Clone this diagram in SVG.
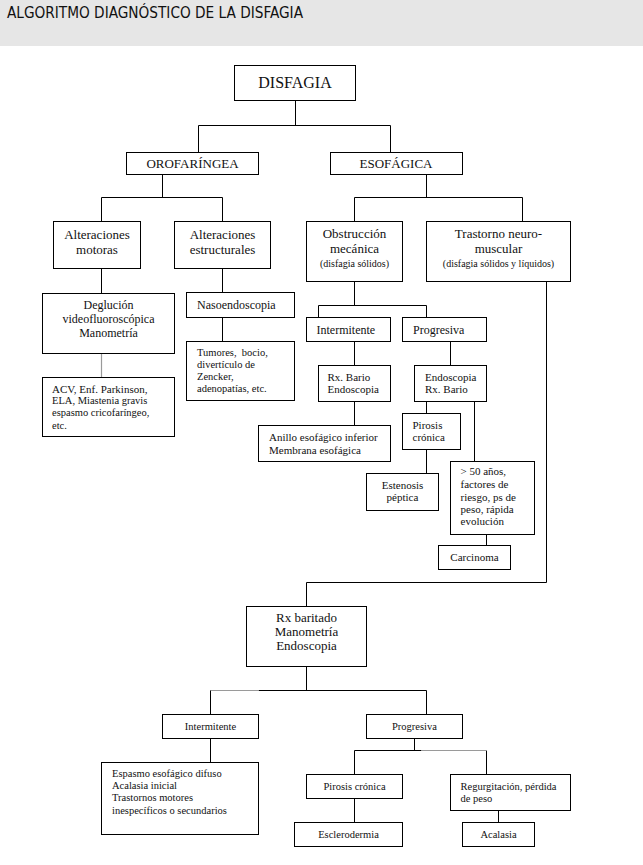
<svg xmlns="http://www.w3.org/2000/svg" width="643" height="865" viewBox="0 0 643 865">
<style>
.bx{fill:#fff;stroke:#000;stroke-width:1}
.ln{fill:none;stroke:#000;stroke-width:1}
.lg{fill:none;stroke:#9a9a9a;stroke-width:1.2}
text{font-family:"Liberation Serif","Times New Roman",serif;fill:#111}
.c{text-anchor:middle}
.f16{font-size:16px}.f13{font-size:13px}.f12{font-size:12px}.f11{font-size:11px}.f105{font-size:10.5px}.f10{font-size:10px}
.title{font-family:"Liberation Sans Narrow","DejaVu Sans Condensed","Liberation Sans",sans-serif;font-size:15px;fill:#111}
</style>
<rect x="0" y="0" width="643" height="46" fill="#e6e6e6"/>
<text class="title" x="7" y="18" textLength="296" lengthAdjust="spacingAndGlyphs">ALGORITMO DIAGNÓSTICO DE LA DISFAGIA</text>
<rect x="0" y="46" width="643" height="819" fill="#fff"/>

<g id="connectors">
<path class="ln" d="M295.5 100.5V125.5M198.5 152.5V125.5H390.5V152.5"/>
<path class="ln" d="M162.5 174.5V197.5M101.5 221.5V197.5H222.5V221.5"/>
<path class="ln" d="M426.5 174.5V197.5M354.5 221.5V197.5H522.5V221.5"/>
<path class="ln" d="M101.5 268.5V293.5M222.5 268.5V292.5M222.5 317.5V341.5"/>
<path class="lg" d="M101.5 353.5V377.5"/>
<path class="ln" d="M354.5 281.5V305.5M318.5 317.5V305.5H426.5V317.5"/>
<path class="ln" d="M354.5 341.5V365.5M450.5 341.5V365.5M354.5 401.5V425.5"/>
<path class="ln" d="M426.5 401.5V413.5M426.5 449.5V473.5M474.5 401.5V461.5M486.5 534.5V545.5"/>
<path class="ln" d="M546.5 281.5V582.5H306.5V606.5"/>
<path class="ln" d="M306.5 666.5V690.5M258.5 690.5H426.5V714.5"/>
<path class="lg" d="M210.5 690.5H258.5"/>
<path class="ln" d="M210.5 714.5V690.5M210.5 738.5V762.5"/>
<path class="ln" d="M414.5 738.5V750.5M354.5 774.5V750.5H421.5M486.5 750.5V774.5"/>
<path class="lg" d="M421.5 750.5H486.5"/>
<path class="ln" d="M354.5 798.5V822.5M498.5 810.5V822.5"/>
</g>

<g id="disfagia"><rect class="bx" x="234.5" y="65.5" width="121" height="35"/><text class="c f16" x="295" y="88">DISFAGIA</text></g>
<g id="orofaringea"><rect class="bx" x="126.5" y="152.5" width="132" height="22"/><text class="c f13" x="192.5" y="168">OROFARÍNGEA</text></g>
<g id="esofagica"><rect class="bx" x="330.5" y="152.5" width="132" height="22"/><text class="c f13" x="396" y="168">ESOFÁGICA</text></g>

<g id="alt-motoras"><rect class="bx" x="53.5" y="221.5" width="87" height="47"/><text class="c f13" x="97" y="239">Alteraciones</text><text class="c f13" x="97" y="254">motoras</text></g>
<g id="alt-estructurales"><rect class="bx" x="174.5" y="221.5" width="96" height="47"/><text class="c f13" x="222.5" y="239">Alteraciones</text><text class="c f13" x="222.5" y="254">estructurales</text></g>
<g id="obstruccion"><rect class="bx" x="306.5" y="221.5" width="96" height="60"/><text class="c f13" x="354.5" y="238">Obstrucción</text><text class="c f13" x="354.5" y="253">mecánica</text><text class="c f10" x="354.5" y="267">(disfagia sólidos)</text></g>
<g id="trastorno"><rect class="bx" x="426.5" y="221.5" width="144" height="60"/><text class="c f13" x="498.5" y="238">Trastorno neuro-</text><text class="c f13" x="498.5" y="253">muscular</text><text class="c f10" x="498.5" y="267">(disfagia sólidos y líquidos)</text></g>

<g id="deglucion"><rect class="bx" x="42.5" y="293.5" width="132" height="60"/><text class="c f12" x="108.5" y="309">Deglución</text><text class="c f12" x="108.5" y="323">videofluoroscópica</text><text class="c f12" x="108.5" y="337">Manometría</text></g>
<g id="acv"><rect class="bx" x="42.5" y="377.5" width="132" height="59"/><text class="f11" x="52" y="392.5">ACV, Enf. Parkinson,</text><text class="f105" x="52" y="404">ELA, Miastenia gravis</text><text class="f105" x="52" y="416">espasmo cricofaríngeo,</text><text class="f105" x="52" y="428.5">etc.</text></g>
<g id="nasoendoscopia"><rect class="bx" x="186.5" y="292.5" width="108" height="25"/><text class="f12" x="197" y="309">Nasoendoscopia</text></g>
<g id="tumores"><rect class="bx" x="186.5" y="341.5" width="108" height="59"/><text class="f105" x="197" y="356" xml:space="preserve">Tumores,  bocio,</text><text class="f105" x="197" y="367.5">divertículo de</text><text class="f105" x="197" y="379.5">Zencker,</text><text class="f105" x="197" y="392">adenopatías, etc.</text></g>

<g id="intermitente-1"><rect class="bx" x="306.5" y="317.5" width="84" height="24"/><text class="f12" x="316.5" y="334">Intermitente</text></g>
<g id="progresiva-1"><rect class="bx" x="402.5" y="317.5" width="84" height="24"/><text class="f12" x="413" y="334">Progresiva</text></g>
<g id="rx-bario"><rect class="bx" x="318.5" y="365.5" width="72" height="36"/><text class="f11" x="327.5" y="380.5">Rx. Bario</text><text class="f11" x="327.5" y="393">Endoscopia</text></g>
<g id="endoscopia"><rect class="bx" x="414.5" y="365.5" width="72" height="36"/><text class="f11" x="425" y="380.5">Endoscopia</text><text class="f11" x="425" y="393">Rx. Bario</text></g>
<g id="anillo"><rect class="bx" x="258.5" y="425.5" width="132" height="36"/><text class="f11" x="269" y="440.5">Anillo esofágico inferior</text><text class="f11" x="269" y="453.5">Membrana esofágica</text></g>
<g id="pirosis-1"><rect class="bx" x="402.5" y="413.5" width="58" height="36"/><text class="f11" x="412.5" y="428.5">Pirosis</text><text class="f11" x="412.5" y="441">crónica</text></g>
<g id="estenosis"><rect class="bx" x="366.5" y="473.5" width="72" height="37"/><text class="c f11" x="402.5" y="488.5">Estenosis</text><text class="c f11" x="402.5" y="501">péptica</text></g>
<g id="mayor-50"><rect class="bx" x="450.5" y="461.5" width="84" height="73"/><text class="f11" x="460.5" y="474.5">&gt; 50 años,</text><text class="f11" x="460.5" y="488">factores de</text><text class="f11" x="460.5" y="500.5">riesgo, ps de</text><text class="f11" x="460.5" y="512.5">peso, rápida</text><text class="f11" x="460.5" y="525">evolución</text></g>
<g id="carcinoma"><rect class="bx" x="438.5" y="545.5" width="72" height="24"/><text class="c f11" x="474.5" y="560.5">Carcinoma</text></g>

<g id="rx-baritado"><rect class="bx" x="246.5" y="606.5" width="120" height="60"/><text class="c f13" x="306.5" y="622">Rx baritado</text><text class="c f13" x="306.5" y="636">Manometría</text><text class="c f13" x="306.5" y="650">Endoscopia</text></g>
<g id="intermitente-2"><rect class="bx" x="162.5" y="714.5" width="96" height="24"/><text class="c f105" x="210.5" y="729.5">Intermitente</text></g>
<g id="espasmo"><rect class="bx" x="101.5" y="762.5" width="157" height="72"/><text class="f105" x="112" y="777">Espasmo esofágico difuso</text><text class="f105" x="112" y="788.5">Acalasia inicial</text><text class="f105" x="112" y="801">Trastornos motores</text><text class="f105" x="112" y="813.5">inespecíficos o secundarios</text></g>
<g id="progresiva-2"><rect class="bx" x="366.5" y="714.5" width="96" height="24"/><text class="c f105" x="414.5" y="729.5">Progresiva</text></g>
<g id="pirosis-2"><rect class="bx" x="306.5" y="774.5" width="96" height="24"/><text class="c f105" x="354.5" y="789.5">Pirosis crónica</text></g>
<g id="regurgitacion"><rect class="bx" x="450.5" y="774.5" width="120" height="36"/><text class="f105" x="460.5" y="789.5">Regurgitación, pérdida</text><text class="f105" x="460.5" y="802">de peso</text></g>
<g id="esclerodermia"><rect class="bx" x="294.5" y="822.5" width="108" height="24"/><text class="c f105" x="348.5" y="837.5">Esclerodermia</text></g>
<g id="acalasia"><rect class="bx" x="462.5" y="822.5" width="72" height="24"/><text class="c f105" x="498.5" y="837.5">Acalasia</text></g>
</svg>
